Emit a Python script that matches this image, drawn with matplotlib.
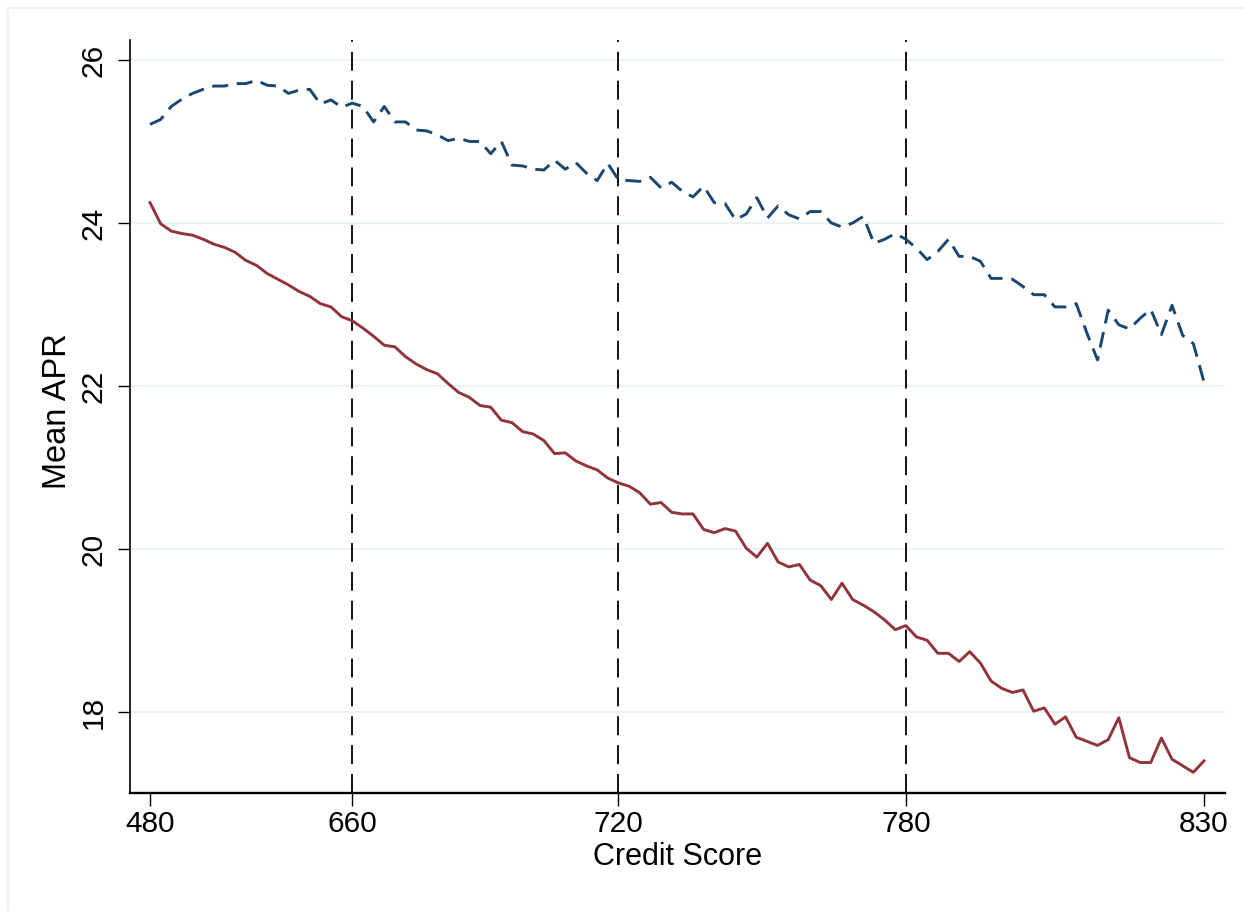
import numpy as np
import matplotlib
matplotlib.use("Agg")
import matplotlib.pyplot as plt
from matplotlib.patches import Rectangle

# credit score percentile bins (1..100)
bins = np.arange(1, 101)

apr_dashed = [
    25.21, 25.27, 25.43, 25.52, 25.59, 25.64, 25.68, 25.68, 25.71, 25.71,
    25.75, 25.69, 25.68, 25.59, 25.63, 25.64, 25.46, 25.51, 25.42, 25.47,
    25.43, 25.24, 25.43, 25.24, 25.24, 25.14, 25.13, 25.08, 25.01, 25.04,
    25.00, 25.00, 24.85, 25.00, 24.71, 24.70, 24.66, 24.65, 24.77, 24.66,
    24.74, 24.61, 24.52, 24.73, 24.53, 24.52, 24.51, 24.56, 24.43, 24.50,
    24.39, 24.32, 24.45, 24.25, 24.24, 24.04, 24.11, 24.31, 24.06, 24.21,
    24.10, 24.05, 24.14, 24.14, 24.00, 23.95, 24.00, 24.08, 23.75, 23.80,
    23.87, 23.80, 23.69, 23.55, 23.65, 23.80, 23.59, 23.59, 23.53, 23.32,
    23.32, 23.31, 23.22, 23.12, 23.12, 22.97, 22.97, 23.01, 22.65, 22.32,
    22.93, 22.75, 22.70, 22.83, 22.94, 22.63, 22.99, 22.62, 22.52, 22.05]

apr_solid = [
    24.25, 23.99, 23.90, 23.87, 23.85, 23.80, 23.74, 23.70, 23.64, 23.54,
    23.48, 23.38, 23.31, 23.24, 23.16, 23.10, 23.01, 22.97, 22.85, 22.80,
    22.71, 22.61, 22.50, 22.48, 22.36, 22.27, 22.20, 22.15, 22.03, 21.92,
    21.86, 21.76, 21.74, 21.58, 21.55, 21.44, 21.41, 21.33, 21.17, 21.18,
    21.08, 21.02, 20.97, 20.87, 20.81, 20.77, 20.69, 20.55, 20.57, 20.45,
    20.43, 20.43, 20.24, 20.20, 20.25, 20.22, 20.01, 19.90, 20.07, 19.84,
    19.78, 19.81, 19.62, 19.55, 19.38, 19.58, 19.38, 19.31, 19.23, 19.13,
    19.01, 19.06, 18.92, 18.88, 18.72, 18.72, 18.62, 18.74, 18.60, 18.38,
    18.29, 18.24, 18.27, 18.01, 18.05, 17.85, 17.94, 17.69, 17.64, 17.59,
    17.66, 17.93, 17.44, 17.38, 17.38, 17.68, 17.42, 17.34, 17.26, 17.40]

tick_bins = [1, 20, 45, 72, 100]
tick_labels = ["480", "660", "720", "780", "830"]
cutoff_bins = [20, 45, 72]
y_ticks = [18, 20, 22, 24, 26]

navy = "#1a476f"
maroon = "#90353b"
grid_color = "#eaf2f3"

plt.rcParams["font.family"] = ["Liberation Sans", "DejaVu Sans"]

fig = plt.figure(figsize=(12.44, 9.11), dpi=100)
ax = fig.add_axes([130 / 1244, 118 / 911, 1095 / 1244, 753 / 911])

# outer graph region frame (cut off right / bottom)
fig.patches.append(Rectangle((8 / 1244, -0.05), 1.2, 903 / 911 + 0.05,
                             transform=fig.transFigure, fill=False,
                             edgecolor=grid_color, linewidth=1.5))

for y in y_ticks:
    ax.axhline(y, color=grid_color, linewidth=1.6, zorder=0)

for b in cutoff_bins:
    ax.axvline(b, color="black", linewidth=1.3, dashes=(10.5, 5.5), zorder=1)

ax.plot(bins, apr_dashed, color=navy, linewidth=2.1, dashes=(5.5, 3.0), zorder=3)
ax.plot(bins, apr_solid, color=maroon, linewidth=2.1, zorder=3)

ax.set_xlim(1 - 20 / 10.636, 100 + 21 / 10.636)
ax.set_ylim(17.006, 26.245)

ax.set_xticks(tick_bins)
ax.set_xticklabels(tick_labels)
ax.set_yticks(y_ticks)
ax.set_yticklabels([str(y) for y in y_ticks], rotation=90, va="center")

ax.tick_params(axis="x", length=9, width=1.0, pad=3.5, labelsize=21.5)
ax.tick_params(axis="y", length=9, width=1.0, pad=7, labelsize=21.5)

ax.spines["top"].set_visible(False)
ax.spines["right"].set_visible(False)
ax.spines["bottom"].set_linewidth(1.7)
ax.spines["left"].set_linewidth(1.2)

ax.set_xlabel("Credit Score", fontsize=22)
ax.set_ylabel("Mean APR", fontsize=23.5)
ax.xaxis.set_label_coords(0.5, -0.065)
ax.yaxis.set_label_coords(-0.052, 0.507)

fig.savefig("out.png", dpi=100, facecolor="white")
